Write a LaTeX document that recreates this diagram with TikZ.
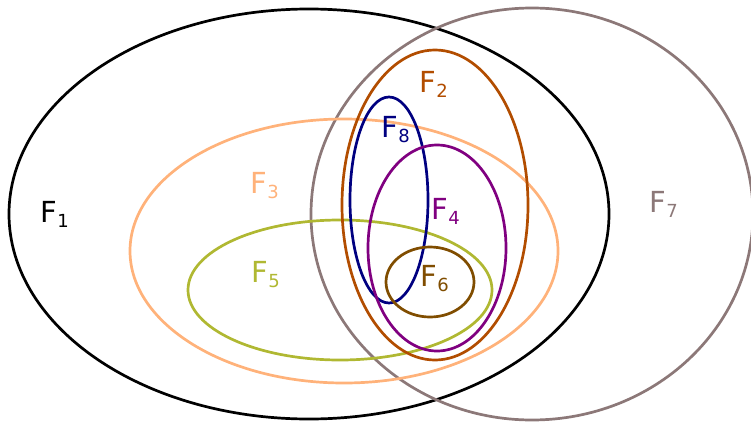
\documentclass[tikz,border=0pt]{standalone}
\usepackage{fontspec}
\setmainfont{DejaVu Sans}
\definecolor{cF1}{RGB}{0,0,0}
\definecolor{cF2}{RGB}{178,77,0}
\definecolor{cF3}{RGB}{255,178,122}
\definecolor{cF4}{RGB}{128,0,128}
\definecolor{cF5}{RGB}{176,184,50}
\definecolor{cF6}{RGB}{128,77,0}
\definecolor{cF7}{RGB}{140,120,120}
\definecolor{cF8}{RGB}{0,0,128}
\newcommand{\setlab}[1]{F\raisebox{-5pt}{\fontsize{18}{18}\selectfont #1}}
\tikzset{
  setline/.style={line width=2.7pt},
  setlabel/.style={anchor=base west, inner sep=0pt, xshift=-2.5pt, font=\fontsize{29}{32}\selectfont}
}
\begin{document}
\begin{tikzpicture}[x=1pt,y=-1pt]
\useasboundingbox (0,0) rectangle (751,423);
\draw[setline, cF1] (309,214) ellipse [x radius=300, y radius=205];
\draw[setline, cF7] (532,214) ellipse [x radius=221, y radius=206];
\draw[setline, cF3] (344,251) ellipse [x radius=214, y radius=132];
\draw[setline, cF5] (340,290) ellipse [x radius=152, y radius=70];
\draw[setline, cF2] (435,205) ellipse [x radius=93, y radius=155];
\draw[setline, cF8] (389,200) ellipse [x radius=39, y radius=103];
\draw[setline, cF4] (437,248) ellipse [x radius=69, y radius=103];
\draw[setline, cF6] (430,282) ellipse [x radius=44, y radius=35];
\node[setlabel, text=cF1] (l1) at (43,222) {\setlab{1}};
\node[setlabel, text=cF2] (l2) at (422,92) {\setlab{2}};
\node[setlabel, text=cF3] (l3) at (253,193) {\setlab{3}};
\node[setlabel, text=cF4] (l4) at (434,219) {\setlab{4}};
\node[setlabel, text=cF5] (l5) at (254,282) {\setlab{5}};
\node[setlabel, text=cF6] (l6) at (423,286) {\setlab{6}};
\node[setlabel, text=cF7] (l7) at (652,212) {\setlab{7}};
\node[setlabel, text=cF8] (l8) at (384,137) {\setlab{8}};
\end{tikzpicture}
\end{document}
